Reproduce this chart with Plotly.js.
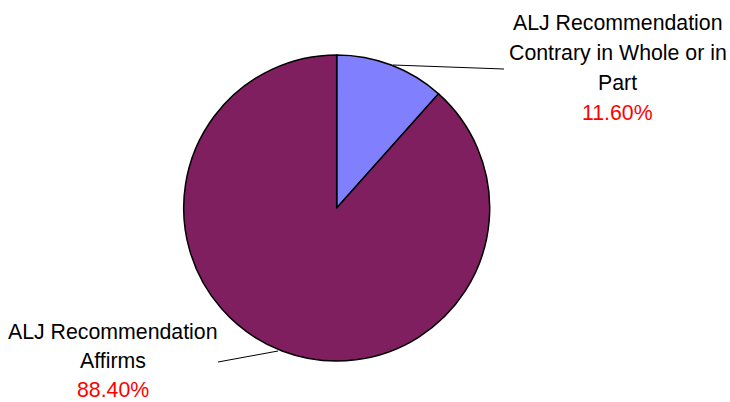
<!DOCTYPE html>
<html>
<head>
<meta charset="utf-8">
<script src="https://cdn.plot.ly/plotly-3.0.1.min.js"></script>
<style>html,body{margin:0;padding:0;background:#fff;}#chart{width:730px;height:402px;}</style>
</head>
<body>
<div id="chart"></div>
<script>
const labels = ["ALJ Recommendation Contrary in Whole or in Part", "ALJ Recommendation Affirms"];
const labelLines = [["ALJ Recommendation", "Contrary in Whole or in", "Part"], ["ALJ Recommendation", "Affirms"]];
const values = [11.6, 88.4];
const colors = ["#8080FF", "#7F1F5F"];

const W = 730, H = 402;
const trace = {
  type: "pie",
  labels: labels,
  values: values,
  sort: false,
  direction: "clockwise",
  rotation: 0,
  textinfo: "none",
  hoverinfo: "label+percent",
  marker: { colors: colors, line: { color: "#000000", width: 1.5 } },
  domain: { x: [(336.7 - 153) / W, (336.7 + 153) / W], y: [(194 - 153) / H, (194 + 153) / H] },
  showlegend: false
};

const fam = "Liberation Sans, Arial, sans-serif";
const pct = values.map(v => v.toFixed(2) + "%");
// label block placement: centre x and first-line centre y (pixels), line spacing
const blocks = [{ cx: 617.5, y0: 23, dy: 30 }, { cx: 113, y0: 332, dy: 29 }];
const annotations = [];
blocks.forEach((b, i) => {
  const lines = labelLines[i].concat([pct[i]]);
  lines.forEach((t, j) => {
    const isPct = j === lines.length - 1;
    annotations.push({
      xref: "paper", yref: "paper", x: b.cx / W, y: 1 - (b.y0 + j * b.dy) / H,
      xanchor: "center", yanchor: "middle", showarrow: false, text: t,
      font: { family: fam, size: 21.3, color: isPct ? "#FF0000" : "#000000" }
    });
  });
});

const shapes = [
  { type: "line", xref: "paper", yref: "paper", x0: 393 / W, y0: 1 - 65 / H, x1: 504 / W, y1: 1 - 69 / H, line: { color: "#000000", width: 1 } },
  { type: "line", xref: "paper", yref: "paper", x0: 278 / W, y0: 1 - 351 / H, x1: 218 / W, y1: 1 - 362 / H, line: { color: "#000000", width: 1 } }
];

const layout = {
  width: W, height: H,
  margin: { l: 0, r: 0, t: 0, b: 0 },
  paper_bgcolor: "#FFFFFF",
  plot_bgcolor: "#FFFFFF",
  font: { family: fam },
  annotations: annotations,
  shapes: shapes
};

Plotly.newPlot("chart", [trace], layout, { displayModeBar: false, staticPlot: true });
</script>
</body>
</html>
